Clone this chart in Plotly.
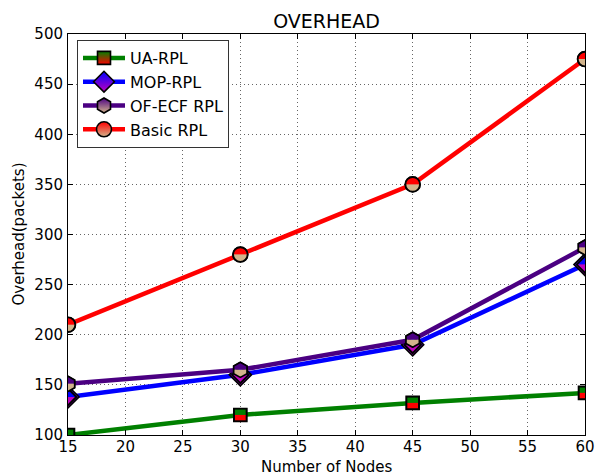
import base64
import plotly.graph_objects as go

# ---------------- data ----------------
nodes = [15, 30, 45, 60]
ua_rpl = [100, 120, 132, 142]
mop_rpl = [138, 160, 190, 270]
ofecf_rpl = [151, 165, 195, 287]
basic_rpl = [210, 280, 350, 475]

series_names = ["UA-RPL", "MOP-RPL", "OF-ECF RPL", "Basic RPL"]
x_ticks = [15, 20, 25, 30, 35, 40, 45, 50, 55, 60]
y_ticks = [100, 150, 200, 250, 300, 350, 400, 450, 500]

# ---------------- style ----------------
W, H = 595, 475
ML, MR, MT, MB = 68, 10, 34, 40
PW, PH = W - ML - MR, H - MT - MB
XR = [15, 60]
YR = [100, 500]

styles = {
    "UA-RPL": dict(line="#008000", top="#008000", bot="#ff0000", shape="square", size=15, sym="square"),
    "MOP-RPL": dict(line="#0000ff", top="#0000ff", bot="#bf00bf", shape="diamond", size=19, sym="diamond"),
    "OF-ECF RPL": dict(line="#4b0082", top="#4b0082", bot="#d2b48c", shape="hexagon", size=17, sym="hexagon"),
    "Basic RPL": dict(line="#ff0000", top="#ff0000", bot="#d2b48c", shape="circle", size=17, sym="circle"),
}


def svg_marker(shape, top, bot):
    s = 'stroke="black" stroke-width="1.6"'
    if shape == "square":
        body = (f'<rect x="1.5" y="1.5" width="13" height="6.5" fill="{top}"/>'
                f'<rect x="1.5" y="8" width="13" height="6.5" fill="{bot}"/>'
                f'<rect x="1.5" y="1.5" width="13" height="13" fill="none" {s}/>')
    elif shape == "diamond":
        body = (f'<polygon points="1,8 8,1 15,8" fill="{top}"/>'
                f'<polygon points="1,8 8,15 15,8" fill="{bot}"/>'
                f'<polygon points="1,8 8,1 15,8 8,15" fill="none" {s} stroke-linejoin="miter"/>')
    elif shape == "hexagon":
        body = (f'<polygon points="1.7,8 1.7,4.4 8,0.9 14.3,4.4 14.3,8" fill="{top}"/>'
                f'<polygon points="1.7,8 1.7,11.6 8,15.1 14.3,11.6 14.3,8" fill="{bot}"/>'
                f'<polygon points="1.7,4.4 8,0.9 14.3,4.4 14.3,11.6 8,15.1 1.7,11.6" fill="none" {s}/>')
    else:
        body = (f'<path d="M1.2,8 A6.8,6.8 0 0 1 14.8,8 Z" fill="{top}"/>'
                f'<path d="M1.2,8 A6.8,6.8 0 0 0 14.8,8 Z" fill="{bot}"/>'
                f'<circle cx="8" cy="8" r="6.8" fill="none" {s}/>')
    svg = (f'<svg xmlns="http://www.w3.org/2000/svg" width="16" height="16" viewBox="0 0 16 16" '
           f'preserveAspectRatio="none">{body}</svg>')
    return "data:image/svg+xml;base64," + base64.b64encode(svg.encode()).decode()


fig = go.Figure()
images = []
data_map = {"UA-RPL": ua_rpl, "MOP-RPL": mop_rpl, "OF-ECF RPL": ofecf_rpl, "Basic RPL": basic_rpl}

for name in series_names:
    st = styles[name]
    vals = data_map[name]
    fig.add_trace(go.Scatter(
        x=nodes, y=vals, name=name, mode="lines+markers",
        line=dict(color=st["line"], width=4.5),
        marker=dict(symbol=st["sym"], size=st["size"] - 2, color=st["top"],
                    gradient=dict(type="vertical", color=st["bot"]),
                    line=dict(color="black", width=1.6)),
    ))
    src = svg_marker(st["shape"], st["top"], st["bot"])
    px = st["size"]
    for xv, yv in zip(nodes, vals):
        images.append(dict(
            source=src, xref="x", yref="y", x=xv, y=yv,
            sizex=px * (XR[1] - XR[0]) / PW, sizey=px * (YR[1] - YR[0]) / PH,
            xanchor="center", yanchor="middle", sizing="stretch", layer="above",
        ))

font = "DejaVu Sans, sans-serif"
axis_common = dict(
    showline=True, linecolor="black", linewidth=1, mirror="allticks",
    ticks="inside", ticklen=5, tickcolor="black",
    showgrid=True, gridcolor="#666666", griddash="1px,3px", gridwidth=1,
    zeroline=False, tickfont=dict(family=font, size=15, color="black"),
    ticklabeloverflow="allow", automargin=False,
)

fig.update_layout(
    width=W, height=H,
    margin=dict(l=ML, r=MR, t=MT, b=MB),
    paper_bgcolor="white", plot_bgcolor="white",
    font=dict(family=font, color="black"),
    title=dict(text="OVERHEAD", x=(ML + PW / 2) / W, xanchor="center", y=1 - 21 / H, yanchor="middle",
               font=dict(family=font, size=19, color="black")),
    xaxis=dict(range=XR, tickvals=x_ticks, ticktext=[str(v) for v in x_ticks],
               ticklabelstandoff=-2, **axis_common),
    yaxis=dict(range=YR, tickvals=y_ticks, ticktext=[str(v) for v in y_ticks],
               ticklabelstandoff=1, **axis_common),
    annotations=[
        dict(text="Number of Nodes", xref="paper", yref="paper", x=0.5, y=-(467 - (H - MB)) / PH,
             xanchor="center", yanchor="middle", showarrow=False,
             font=dict(family=font, size=15, color="black")),
        dict(text="Overhead(packets)", xref="paper", yref="paper", x=-(ML - 18) / PW, y=0.5,
             xanchor="center", yanchor="middle", showarrow=False, textangle=-90,
             font=dict(family=font, size=15, color="black")),
    ],
    legend=dict(x=(77 - ML) / PW, y=1 - (40 - MT) / PH, xanchor="left", yanchor="top",
                bgcolor="white", bordercolor="#333333", borderwidth=1,
                font=dict(family=font, size=16), tracegroupgap=0, itemwidth=42),
    images=images,
    showlegend=True,
)

fig.write_html("out.html")
